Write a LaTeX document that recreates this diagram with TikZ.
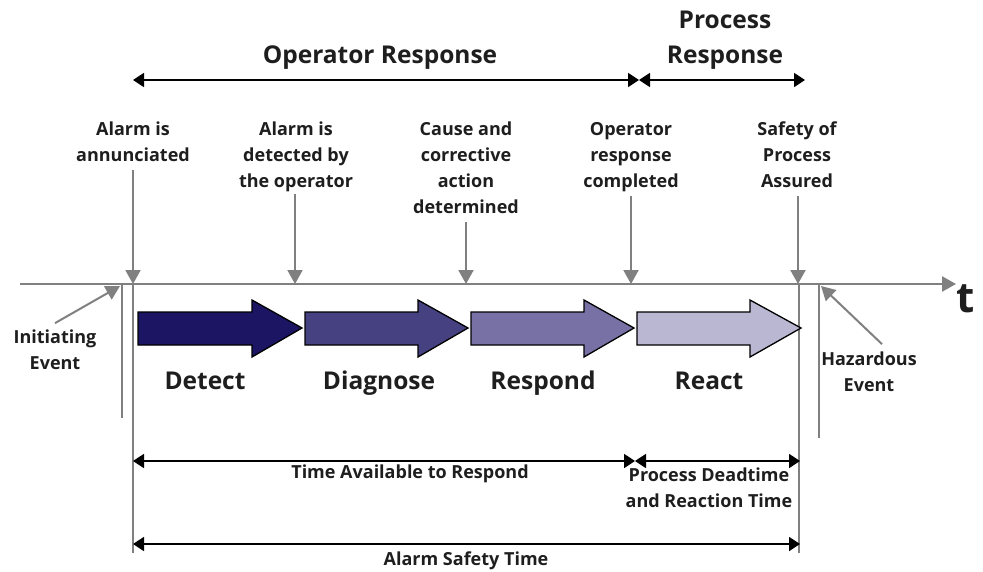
\documentclass[tikz,border=0pt]{standalone}
\usepackage{fontspec}
\setmainfont{Open Sans}
\usetikzlibrary{arrows.meta}
\definecolor{gline}{RGB}{128,128,128}
\definecolor{txt}{RGB}{30,30,30}
\definecolor{cdetect}{RGB}{27,21,100}
\definecolor{cdiag}{RGB}{70,65,128}
\definecolor{cresp}{RGB}{120,113,166}
\definecolor{creact}{RGB}{185,183,209}
\newcommand\blockarr[4]{%
  \filldraw[fill=#4,draw=black,line width=1.3pt,line join=miter]
    (#1,312) -- (#2,312) -- (#2,300) -- (#3,328) -- (#2,357) -- (#2,345) -- (#1,345) -- cycle;}
\begin{document}
\begin{tikzpicture}[x=1pt,y=-1pt,
  garrow/.style={draw=gline,line width=2pt,-{Triangle[length=14pt,width=15pt]}},
  gl/.style={draw=gline,line width=2pt},
  dim/.style={draw=black,line width=1.8pt,{Triangle[length=11pt,width=14pt]}-{Triangle[length=11pt,width=14pt]}},
  lab/.style={font=\fontsize{18}{26}\selectfont\bfseries,text=txt,align=center,inner sep=0pt,anchor=base},
  big/.style={font=\fontsize{24.5}{35}\selectfont\bfseries,text=txt,align=center,inner sep=0pt,anchor=base},
]
\useasboundingbox (0,0) rectangle (983,571);
\fill[white] (0,0) rectangle (983,571);

% time axis
\coordinate (ax0) at (20,284);
\coordinate (ax1) at (956,284);
\draw[garrow,line width=2.5pt] (ax0) -- (ax1);
\node[font=\fontsize{42}{42}\selectfont\bfseries,text=txt,inner sep=0pt] (t) at (966,299) {t};

% vertical marker lines
\coordinate (v1a) at (133,284); \coordinate (v1b) at (133,553);
\coordinate (v0a) at (122,284); \coordinate (v0b) at (122,418);
\coordinate (v4a) at (799,284); \coordinate (v4b) at (799,553);
\coordinate (v5a) at (819,284); \coordinate (v5b) at (819,438);
\draw[gl] (v1a) -- (v1b);
\draw[gl] (v0a) -- (v0b);
\draw[gl] (v4a) -- (v4b);
\draw[gl] (v5a) -- (v5b);

% top labels and down arrows (anchor = baseline of last line)
\node[lab] (l1) at (133,161) {Alarm is\\annunciated};
\node[lab] (l2) at (296,187) {Alarm is\\detected by\\the operator};
\node[lab] (l3) at (466,213) {Cause and\\corrective\\action\\determined};
\node[lab] (l4) at (631,187) {Operator\\response\\completed};
\node[lab] (l5) at (797,187) {Safety of\\Process\\Assured};
\coordinate (s1) at (133,170); \coordinate (e1) at (133,284);
\coordinate (s2) at (295,194); \coordinate (e2) at (295,284);
\coordinate (s3) at (466,222); \coordinate (e3) at (466,284);
\coordinate (s4) at (631,196); \coordinate (e4) at (631,284);
\coordinate (s5) at (798,196); \coordinate (e5) at (798,284);
\draw[garrow] (s1) -- (e1);
\draw[garrow] (s2) -- (e2);
\draw[garrow] (s3) -- (e3);
\draw[garrow] (s4) -- (e4);
\draw[garrow] (s5) -- (e5);

% events
\node[lab] (ie) at (55,369) {Initiating\\Event};
\node[lab] (he) at (869,391) {Hazardous\\Event};
\coordinate (ieh) at (120,286);
\coordinate (heh) at (821,286);
\draw[garrow] ([yshift=6pt]ie.north) -- (ieh);
\draw[garrow] ([xshift=13pt,yshift=7pt]he.north) -- (heh);

% block arrows
\blockarr{138}{252}{302}{cdetect}
\blockarr{305}{418}{468}{cdiag}
\blockarr{471}{584}{634}{cresp}
\blockarr{637}{750}{801}{creact}
\node[big] (detect) at (205,389) {Detect};
\node[big] (diag) at (379,389) {Diagnose};
\node[big] (resp) at (543,389) {Respond};
\node[big] (react) at (709,389) {React};

% top dimension arrows
\node[big] (opr) at (380,63) {Operator Response};
\node[big] (prr) at (725,63) {Process\\Response};
\coordinate (o1) at (133,80); \coordinate (o2) at (639,80); \coordinate (o3) at (805,80);
\draw[dim] (o1) -- (o2);
\draw[dim] (o2) -- (o3);

% bottom dimension arrows
\coordinate (b1) at (133,461); \coordinate (b2) at (635,461); \coordinate (b3) at (800,461);
\draw[dim] (b1) -- (b2);
\draw[dim] (b2) -- (b3);
\node[lab] (tar) at (410,478) {Time Available to Respond};
\node[lab] (pdt) at (709,507) {Process Deadtime\\and Reaction Time};
\coordinate (c1) at (133,544); \coordinate (c2) at (800,544);
\draw[dim] (c1) -- (c2);
\node[lab] (ast) at (466,565) {Alarm Safety Time};
\end{tikzpicture}
\end{document}
